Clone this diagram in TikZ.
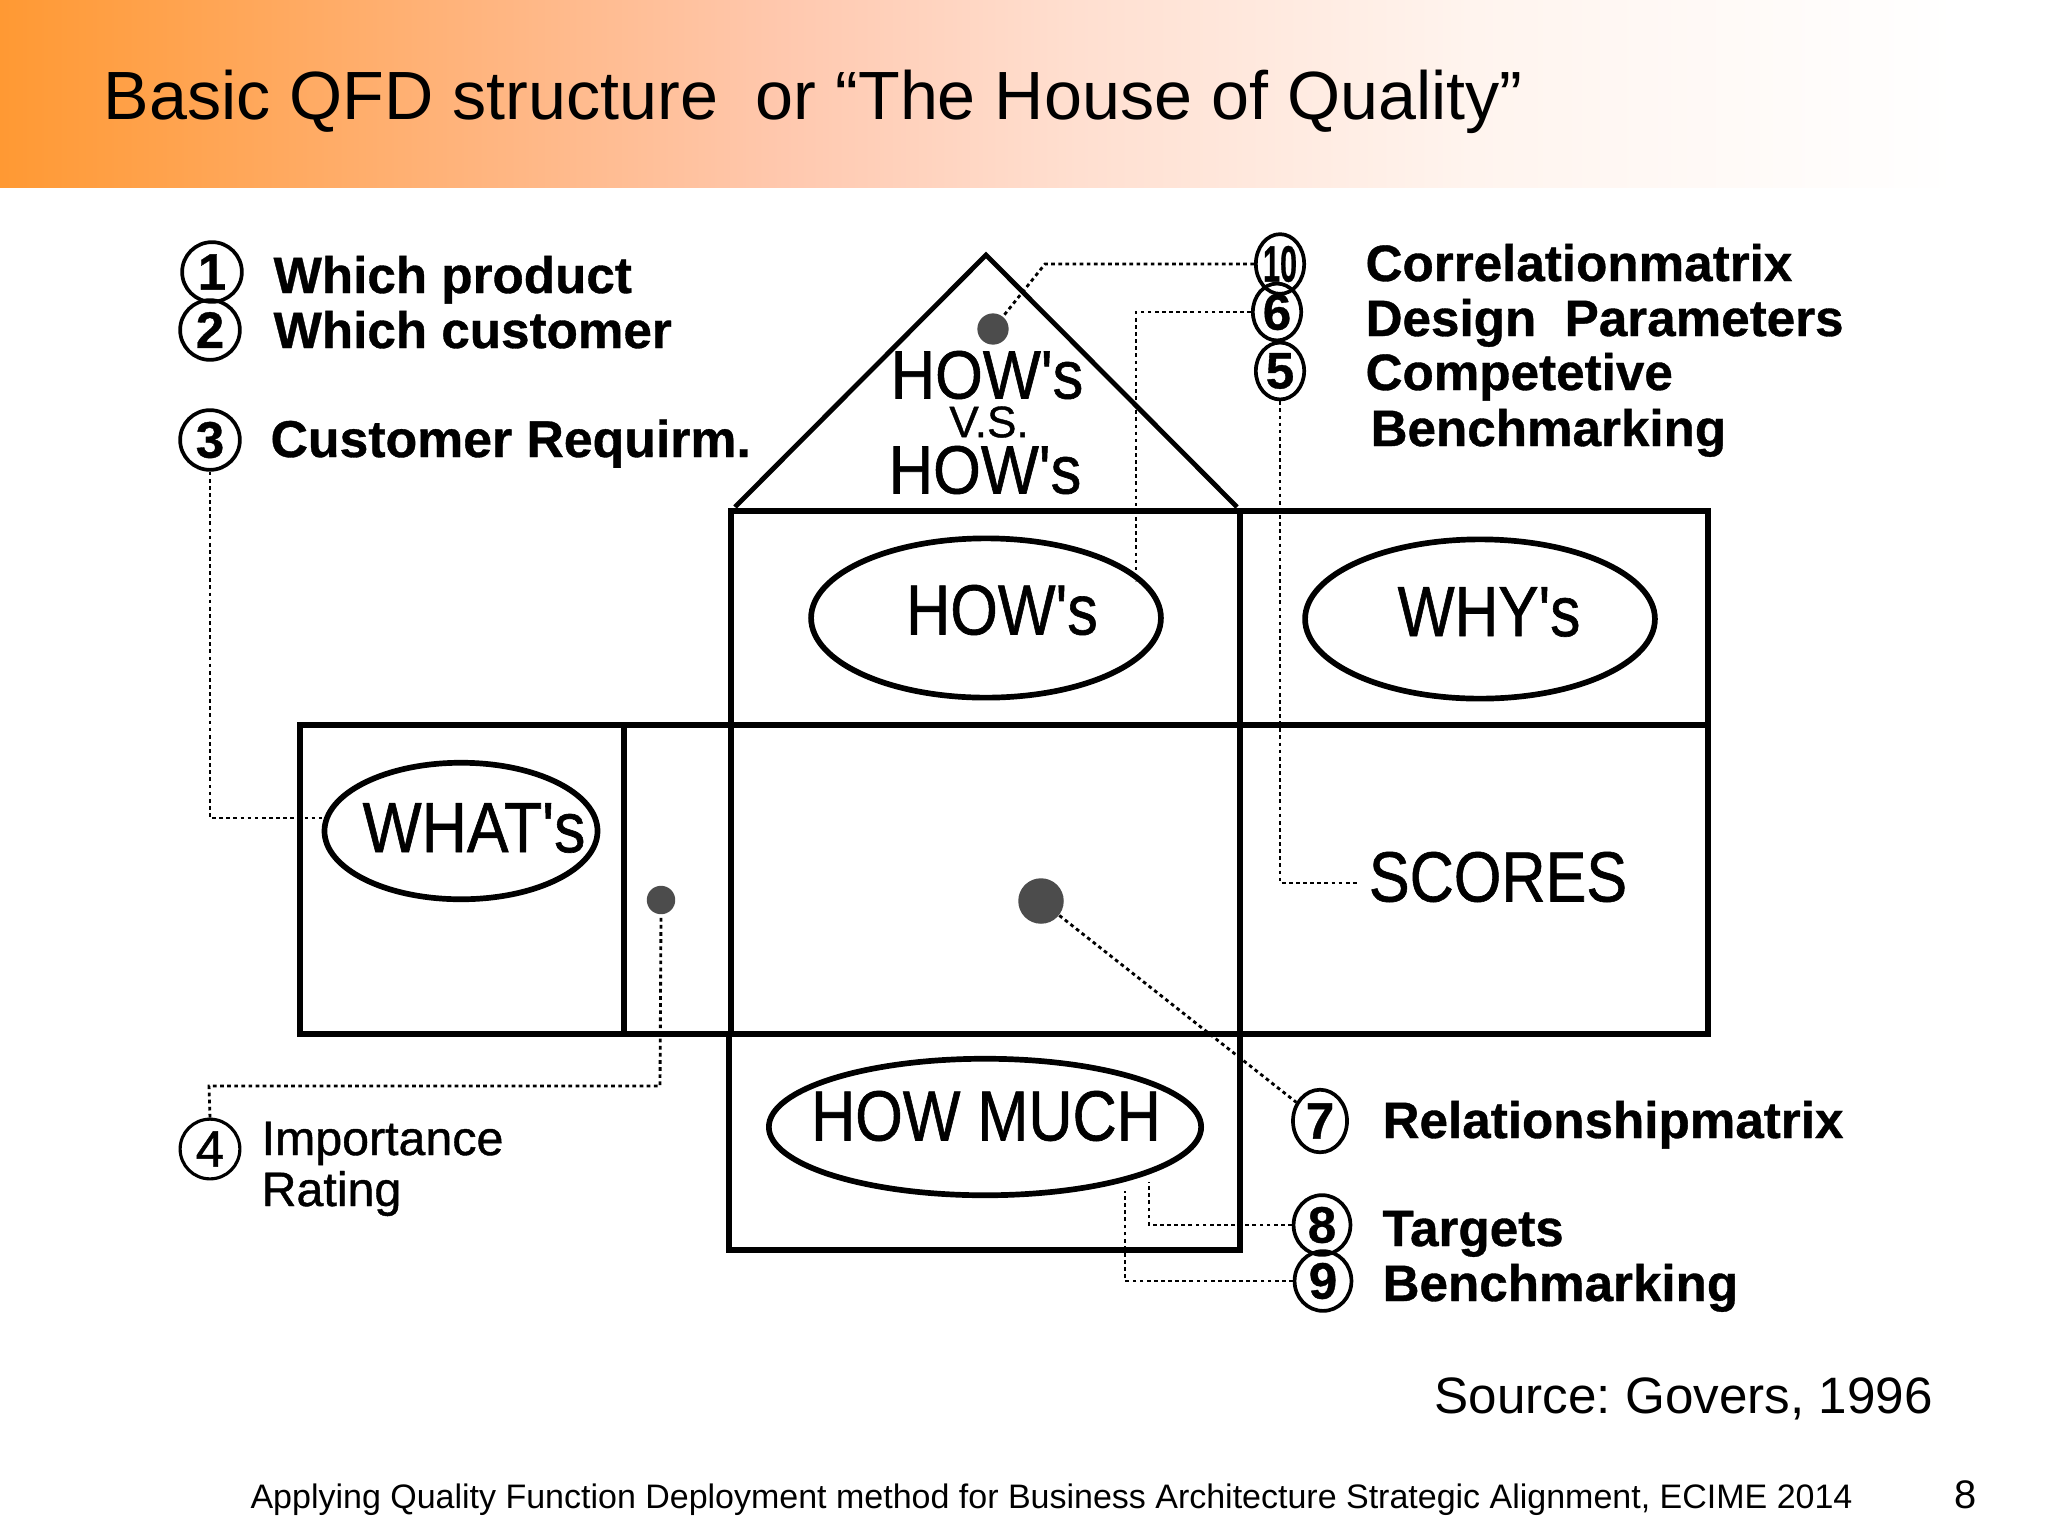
\documentclass[tikz,border=0pt]{standalone}
\usepackage{fontspec}
\setmainfont{Liberation Sans}
\newfontfamily\bigf[FakeBold=0.9]{Liberation Sans}
\newfontfamily\labf[FakeBold=0.7]{Liberation Sans Bold}
\usetikzlibrary{shapes.geometric}
\definecolor{hdra}{HTML}{FF9933}
\definecolor{hdrb}{HTML}{FFB580}
\definecolor{hdrc}{HTML}{FFC8AE}
\definecolor{hdrd}{HTML}{FFDFD0}
\definecolor{hdre}{HTML}{FFF4EE}
\pgfdeclarehorizontalshading{hdrshade}{100bp}{color(0bp)=(hdra); color(25bp)=(hdra); color(37.5bp)=(hdrb); color(45bp)=(hdrc); color(52.5bp)=(hdrd); color(62.5bp)=(hdre); color(75bp)=(white); color(100bp)=(white)}
\newcommand\nar[2][0.85]{\scalebox{#1}[1]{#2}}
\frenchspacing
\tikzset{
  thick line/.style={line width=2.4pt,line cap=rect,line join=miter},
  thin box/.style={line width=1.8pt},
  oval/.style={ellipse,draw,line width=2pt,inner sep=0pt},
  num/.style={ellipse,draw,line width=1.3pt,inner sep=0pt,minimum width=21pt,minimum height=21pt,font=\fontsize{18}{18}\labf\selectfont},
  lab/.style={anchor=base west,inner sep=0pt,font=\fontsize{18}{18}\labf\selectfont},
  lablight/.style={anchor=base west,inner sep=0pt,font=\fontsize{17}{17}\bigf\selectfont},
  big/.style={inner sep=0pt,font=\fontsize{25}{25}\bigf\selectfont},
  roof/.style={inner sep=0pt,font=\fontsize{24}{24}\bigf\selectfont},
  dotline/.style={line width=1pt,dash pattern=on 1.3pt off 1.2pt},
  blob/.style={circle,fill=black!70,inner sep=0pt},
  slide/.style={inner sep=0pt}
}
\begin{document}
\begin{tikzpicture}[x=0.3516pt,y=-0.3516pt]
\path[use as bounding box] (0,0) rectangle (2048,1536);
\shade[shading=hdrshade] (0,0) rectangle (1960,187);
\node[slide,anchor=base west,font=\fontsize{24}{24}\selectfont] (title) at (103,119) {Basic QFD structure\ \ or “The House of Quality”};
% house
\coordinate (apex) at (986,255);
\coordinate (rl) at (735,507);
\coordinate (rr) at (1237,507);
\draw[line width=1.7pt,line join=miter] (rl) -- (apex) -- (rr);
\draw[thick line] (731,511) rectangle (1708,1034);
\draw[thick line] (300,725) rectangle (731,1034);
\draw[thick line] (731,725) -- (1708,725);
\draw[thick line] (1240,511) -- (1240,1250) -- (729,1250) -- (729,1034);
\draw[thin box] (624,725) -- (624,1034);
% ovals
\node[oval,minimum width=123pt,minimum height=56pt] (howsE) at (986,618) {};
\node[oval,minimum width=123pt,minimum height=56pt] (whysE) at (1480,619) {};
\node[oval,minimum width=96pt,minimum height=48pt] (whatE) at (461,831) {};
\node[oval,minimum width=152pt,minimum height=48pt] (muchE) at (985,1127) {};
% big text
\node[roof] (t1) at (987,375) {\nar[0.9]{HOW's}};
\node[inner sep=0pt,font=\fontsize{15.5}{15.5}\bigf\selectfont] (t2) at (989,422) {V.S.};
\node[roof] (t3) at (985,470) {\nar[0.9]{HOW's}};
\node[big] (t4) at (1002,610) {\nar[0.86]{HOW's}};
\node[big] (t5) at (1489,612) {\nar[0.85]{WHY's}};
\node[big] (t6) at (474,828) {\nar[0.88]{WHAT's}};
\node[big] (t7) at (986,1116) {\nar[0.86]{HOW MUCH}};
\node[big] (t8) at (1498,877) {\nar[0.86]{SCORES}};
% dots
\node[blob,minimum size=11pt] (d10) at (993,329) {};
\node[blob,minimum size=10pt] (d4) at (661,900) {};
\node[blob,minimum size=16pt] (d7) at (1041,901) {};
% numbers
\node[num] (n1) at (212,272) {1};
\node[num] (n2) at (210,330) {2};
\node[num] (n3) at (210,440) {3};
\node[num,line width=1.1pt,font=\fontsize{18}{18}\bigf\selectfont] (n4) at (210,1149) {4};
\node[num,minimum width=16pt,minimum height=21pt] (n10) at (1280,264) {\nar[0.6]{10}};
\node[num,minimum width=17pt,minimum height=20pt] (n6) at (1277,312) {6};
\node[num,minimum width=17pt,minimum height=20pt] (n5) at (1280,371) {5};
\node[num,minimum width=19pt,minimum height=22pt] (n7) at (1320,1121) {7};
\node[num,minimum width=20pt,minimum height=21pt] (n8) at (1322,1225) {8};
\node[num,minimum width=20pt,minimum height=21pt] (n9) at (1323,1281) {9};
% labels
\node[lab] (l1) at (273,293) {Which product};
\node[lab] (l2) at (273,348) {Which customer};
\node[lab,font=\fontsize{18.2}{18.2}\labf\selectfont] (l3) at (270,457) {Customer Requirm.};
\node[lab] (l10) at (1365,281) {Correlationmatrix};
\node[lab] (l6) at (1365,336) {Design\ \ Parameters};
\node[lab] (l5) at (1365,390) {Competetive};
\node[lab] (l5b) at (1370,446) {Benchmarking};
\node[lab] (l7) at (1382,1138) {Relationshipmatrix};
\node[lab] (l8) at (1382,1246) {Targets};
\node[lab] (l9) at (1382,1301) {Benchmarking};
\node[lablight] (l4) at (261,1155) {Importance};
\node[lablight] (l4b) at (261,1206) {Rating};
% connector end points
\coordinate (e3) at (324,818);
\coordinate (b4a) at (209,1086);
\coordinate (b4b) at (660,1086);
\coordinate (b10) at (1045,264);
\coordinate (e6) at (1136,581);
\coordinate (e5) at (1358,883);
\coordinate (e8) at (1149,1182);
\coordinate (e9) at (1125,1191);
% connectors
\draw[dotline] (n3.south) |- (e3);
\draw[dotline] (n4.north) -- (b4a) -- (b4b) -- (d4.south);
\draw[dotline] (n10.west) -- (b10) -- (d10);
\draw[dotline] (n6.west) -| (e6);
\draw[dotline] (n5.south) |- (e5);
\draw[dotline] (d7) -- (n7);
\draw[dotline] (n8.west) -| (e8);
\draw[dotline] (n9.west) -| (e9);
% slide text
\node[slide,anchor=base west,font=\fontsize{18}{18}\selectfont] (src) at (1434,1413) {Source: Govers, 1996};
\node[slide,anchor=base west,font=\fontsize{11.95}{12}\selectfont] (foot) at (250,1508) {Applying Quality Function Deployment method for Business Architecture Strategic Alignment, ECIME 2014};
\node[slide,anchor=base,font=\fontsize{14}{14}\selectfont] (pg) at (1966,1508) {8};
\end{tikzpicture}
\end{document}
